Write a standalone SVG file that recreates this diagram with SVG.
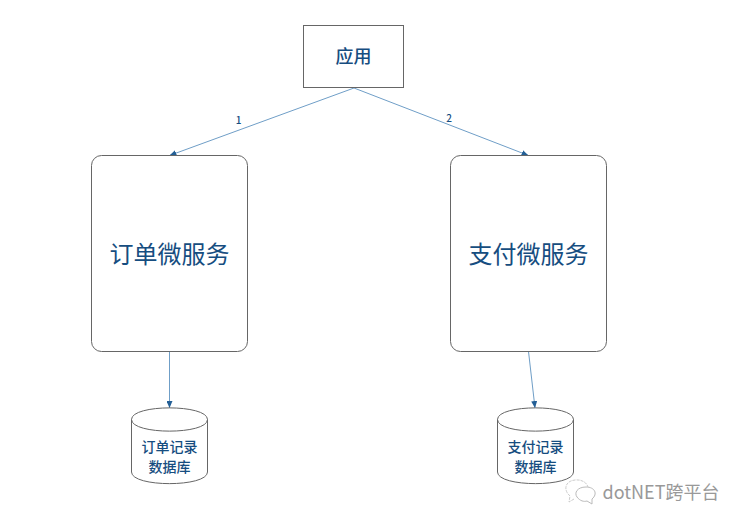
<svg xmlns="http://www.w3.org/2000/svg" width="743" height="526" viewBox="0 0 743 526">
<style>
text{font-family:"Noto Sans CJK SC","Noto Sans",sans-serif;fill:#164d80;text-anchor:middle}
.b{fill:#fff;stroke:#666;stroke-width:1}
.c{fill:none;stroke:#6f9ec7;stroke-width:1;marker-end:url(#a)}
.m{font-weight:500}
</style>
<defs>
<marker id="a" markerUnits="userSpaceOnUse" markerWidth="8" markerHeight="6" refX="7" refY="3" orient="auto"><path d="M0 0L7 3L0 6Z" fill="#235f96"/></marker>
</defs>
<rect width="743" height="526" fill="#fff"/>
<g id="connectors">
<path class="c" d="M354 88L169.500 155.500"/>
<path class="c" d="M354 88L528.500 155.500"/>
<path class="c" d="M169.500 351.500V408"/>
<path class="c" d="M528.500 351.500L535 408"/>
<text class="m" x="238.500" y="124" font-size="10">1</text>
<text class="m" x="449" y="122" font-size="10">2</text>
</g>
<g id="app"><rect class="b" x="303.500" y="25.500" width="100" height="62"/><text class="m" x="353.500" y="63" font-size="18">应用</text></g>
<g id="order"><rect class="b" x="91.500" y="155.500" width="156" height="196" rx="10"/><text x="169.500" y="263" font-size="24">订单微服务</text></g>
<g id="pay"><rect class="b" x="450.500" y="155.500" width="156" height="196" rx="10"/><text x="528.500" y="263" font-size="24">支付微服务</text></g>
<g id="orderdb"><path class="b" d="M131.500 419.500C131.500 404 207.500 404 207.500 419.500V472C207.500 487.500 131.500 487.500 131.500 472Z"/><path class="b" style="fill:none" d="M131.500 419.500C131.500 435 207.500 435 207.500 419.500"/><text class="m" x="169.500" y="452" font-size="14">订单记录</text><text class="m" x="169.500" y="472" font-size="14">数据库</text></g>
<g id="paydb"><path class="b" d="M497.500 419.500C497.500 404 573.500 404 573.500 419.500V472C573.500 487.500 497.500 487.500 497.500 472Z"/><path class="b" style="fill:none" d="M497.500 419.500C497.500 435 573.500 435 573.500 419.500"/><text class="m" x="535.500" y="452" font-size="14">支付记录</text><text class="m" x="535.500" y="472" font-size="14">数据库</text></g>
<g id="watermark">
<path d="M574 499L569 502L570 496C563 490 565 481 575 480C584 479 589 485 588 490" fill="#fff" stroke="#ccc" stroke-dasharray="3 1"/>
<path d="M587 501L592 504L592 499C598 494 595 487 586 487C577 487 574 493 577 497C580 501 584 502 587 501Z" fill="#fff" stroke="#bbb"/>
<text x="661" y="499" font-size="18" style="fill:#999">dotNET跨平台</text>
</g>
</svg>
